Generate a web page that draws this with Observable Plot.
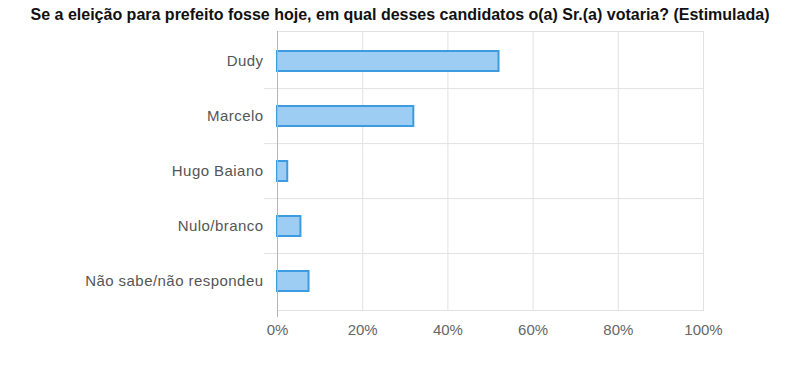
<!DOCTYPE html>
<html>
<head>
<meta charset="utf-8">
<script src="https://cdn.jsdelivr.net/npm/d3@7"></script>
<script src="https://cdn.jsdelivr.net/npm/@observablehq/plot@0.6"></script>
<style>
  body { margin: 0; background: #fff; font-family: "Liberation Sans", Arial, sans-serif; }
  #title { width: 800px; text-align: center; font-weight: bold; font-size: 16px; line-height: 20px; padding-top: 5px; height: 20px; color: #111; }
  g[aria-label="y-axis tick label"] text { letter-spacing: 0.45px; }
</style>
</head>
<body>
<div id="title"></div>
<div id="chart"></div>
<script>
const titleText = "Se a eleição para prefeito fosse hoje, em qual desses candidatos o(a) Sr.(a) votaria? (Estimulada)";
const categories = ["Dudy", "Marcelo", "Hugo Baiano", "Nulo/branco", "Não sabe/não respondeu"];
const values = [52, 32, 2.4, 5.5, 7.4];
const xTicks = [0, 20, 40, 60, 80, 100];

document.getElementById("title").textContent = titleText;

const data = categories.map((c, i) => ({category: c, value: values[i]}));

const W = 800, H = 348, mT = 6, mB = 63;
const step = (H - mT - mB) / categories.length;

const chart = Plot.plot({
  width: W,
  height: H,
  marginTop: mT,
  marginBottom: mB,
  marginLeft: 277,
  marginRight: 97,
  style: {fontFamily: "'Liberation Sans', Arial, sans-serif", background: "#fff"},
  x: {domain: [0, 100]},
  y: {domain: categories, paddingInner: 0.64, paddingOuter: 0.32},
  marks: [
    Plot.ruleX(xTicks.slice(1), {stroke: "#e2e2e2", strokeWidth: 1}),
    Plot.ruleY(categories.slice(1), {y: d => d, stroke: "#e2e2e2", strokeWidth: 1, insetLeft: -13, dy: -step / 2}),
    Plot.frame({stroke: "#e2e2e2"}),
    Plot.barX(data, {y: "category", x: "value", fill: "#9dcdf3", stroke: "#3d9be1", strokeWidth: 2}),
    Plot.ruleX([0], {stroke: "#b5b5b5", strokeWidth: 1, insetBottom: -7}),
    Plot.axisY({tickSize: 0, tickPadding: 14, fontSize: 15, color: "#555", label: null}),
    Plot.axisX({ticks: xTicks, tickFormat: d => d + "%", tickSize: 0, tickPadding: 14, fontSize: 15, color: "#666", label: null})
  ]
});
document.getElementById("chart").appendChild(chart);
</script>
</body>
</html>
